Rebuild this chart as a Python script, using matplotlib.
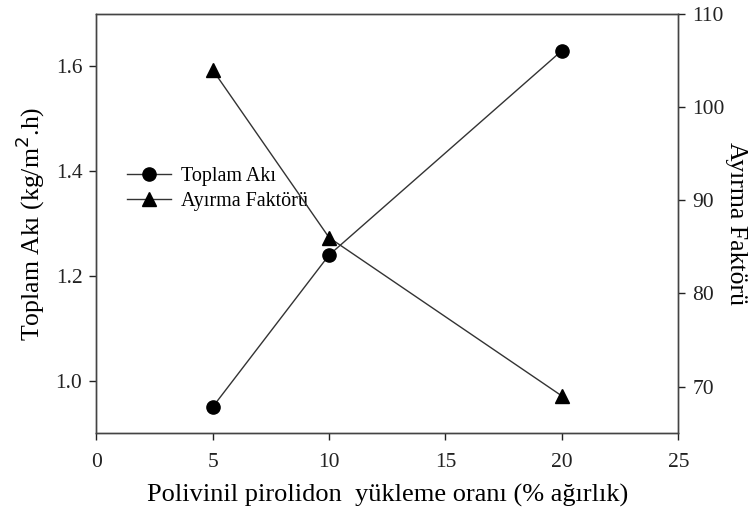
import numpy as np
import matplotlib.pyplot as plt

plt.rcParams['font.family'] = ['Liberation Serif', 'DejaVu Serif']

# data
pvp = [5, 10, 20]
toplam_aki = [0.95, 1.24, 1.63]
ayirma = [104, 86, 69]

fig = plt.figure(figsize=(7.52, 5.17), dpi=100)
ax = fig.add_axes([0.128, 0.162, 0.774, 0.811])
ax2 = ax.twinx()

l1, = ax.plot(pvp, toplam_aki, color='#333333', lw=1, marker='o', ms=9.5,
              mfc='black', mec='black', label='Toplam Akı')
l2, = ax2.plot(pvp, ayirma, color='#333333', lw=1, marker='^', ms=9.5,
               mfc='black', mec='black', label='Ayırma Faktörü')

ax.set_xlim(0, 25)
ax.set_ylim(0.9, 1.7)
ax2.set_ylim(65, 110)
ax.set_xticks([0, 5, 10, 15, 20, 25])
ax.set_yticks([1.0, 1.2, 1.4, 1.6])
ax.set_yticklabels(['1.0', '1.2', '1.4', '1.6'])
ax2.set_yticks([70, 80, 90, 100, 110])

for a in (ax, ax2):
    a.tick_params(direction='out', length=5, width=1, labelsize=15.5, colors='#222222', pad=5)
    for s in a.spines.values():
        s.set_color('#444444')
        s.set_linewidth(1)
ax.tick_params(axis='x', pad=9)

ax.set_xlabel('Polivinil pirolidon  yükleme oranı (% ağırlık)', fontsize=19, labelpad=9)
ax.set_ylabel('Toplam Akı (kg/m$^2$.h)', fontsize=18.5, labelpad=6)
ax2.set_ylabel('Ayırma Faktörü', fontsize=18.5, rotation=270, va='center')
ax2.yaxis.set_label_coords(1.099, 0.5)

ax.legend([l1, l2], ['Toplam Akı', 'Ayırma Faktörü'], loc='center left',
          bbox_to_anchor=(0.021, 0.582), frameon=False, fontsize=14.5,
          handlelength=2.2, handletextpad=0.5, labelspacing=0.3)

fig.savefig('out.png', dpi=100)
